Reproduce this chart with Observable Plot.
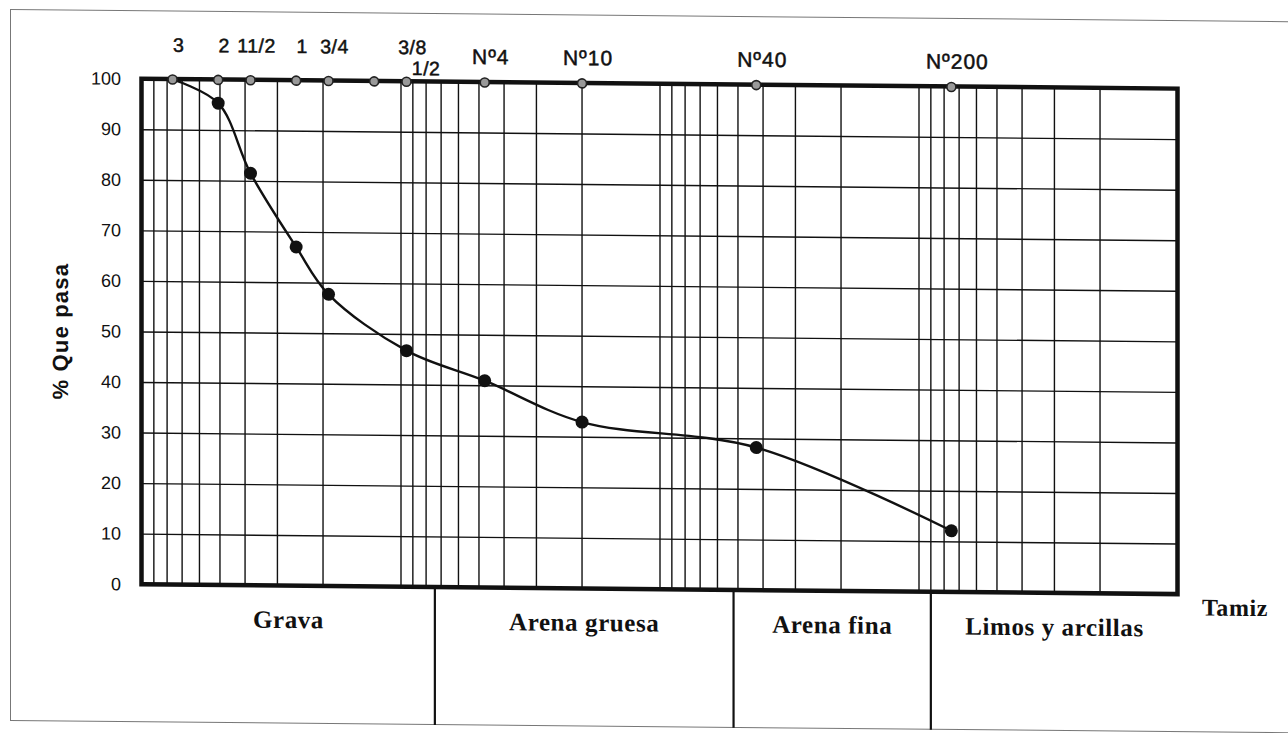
<!DOCTYPE html>
<html>
<head>
<meta charset="utf-8">
<script src="https://cdn.jsdelivr.net/npm/d3@7"></script>
<script src="https://cdn.jsdelivr.net/npm/@observablehq/plot@0.6"></script>
<style>
  html, body { margin: 0; padding: 0; background: #fff; }
  #sheet { position: relative; width: 1288px; height: 733px; overflow: hidden; transform: skewY(0.55deg); }
  #sheet .border { position: absolute; left: 10px; top: 15px; width: 1300px; height: 712px;
                   border: 1.5px solid #777; box-sizing: border-box; }
  #sheet svg { position: absolute; left: 0; top: 0; }
  .sieve-label text { letter-spacing: 0.5px; }
  .mesh-label text { letter-spacing: 1px; }
  .axis-title text { letter-spacing: 1.2px; }
  .fraction-label text { letter-spacing: 0.6px; }
</style>
</head>
<body>
<div id="sheet"><div class="border"></div></div>
<script>
// Sieve series (ASTM openings in mm) and the percentage passing each one
const sieveNames = ["3", "2", "11/2", "1", "3/4", "1/2", "3/8", "Nº4", "Nº10", "Nº40", "Nº200"];
const sieveSizes = [76.2, 50.8, 38.1, 25.4, 19.05, 12.7, 9.525, 4.75, 2.0, 0.425, 0.075];
const passing    = [100, 95.4, 81.6, 67.1, 57.8, null, 46.8, 41.0, 33.0, 28.3, 12.2];

// Axis extents and ticks
const sizeDomain = [100, 0.01];          // particle size, mm (log, coarse on the left)
const percentTicks = [0, 10, 20, 30, 40, 50, 60, 70, 80, 90, 100];

// Soil fractions shown in the strip under the chart
const bandNames  = ["Grava", "Arena gruesa", "Arena fina", "Limos y arcillas"];
const bandLimits = [7.4, 0.52, 0.09];

// Depth of the fraction strip, in % units of the y scale
const stripDepth = 27.3;

// Log-paper grid: 1..9 × 10^k inside the frame
const gridSizes = [];
for (let k = -2; k <= 1; ++k) for (let m = 1; m <= 9; ++m) {
  const v = m * 10 ** k;
  if (v > sizeDomain[1] && v < sizeDomain[0]) gridSizes.push(+v.toPrecision(3));
}

const points = sieveSizes.map((s, i) => ({size: s, pct: passing[i], name: sieveNames[i]}));
const measured = points.filter(d => d.pct != null);
const inchLabels = points.filter(d => !d.name.startsWith("Nº") && d.name !== "1/2");
const halfLabel = points.filter(d => d.name === "1/2");
const meshLabels = points.filter(d => d.name.startsWith("Nº"));

const edges = [sizeDomain[0], ...bandLimits, sizeDomain[1]];
const bands = bandNames.map((name, i) => ({name, mid: Math.sqrt(edges[i] * edges[i + 1])}));

const ink = "#111";
const sans = "'Liberation Sans', Arial, sans-serif";
const serif = "'Liberation Serif', 'Times New Roman', serif";

const chart = Plot.plot({
  width: 1288,
  height: 733,
  marginLeft: 141.5,
  marginRight: 110.5,
  marginTop: 83.5,
  marginBottom: 6,
  x: {type: "log", domain: sizeDomain, axis: null},
  y: {domain: [-stripDepth, 100]},
  style: {fontFamily: sans, fontSize: "18px", color: ink, background: "transparent", overflow: "visible"},
  marks: [
    // grid
    Plot.ruleX(gridSizes, {y1: 0, y2: 100, stroke: ink, strokeWidth: 1.4}),
    Plot.ruleY(percentTicks.filter(t => t > 0 && t < 100), {x1: sizeDomain[0], x2: sizeDomain[1], stroke: ink, strokeWidth: 1.4}),
    // fraction strip dividers
    Plot.ruleX(bandLimits, {y1: 0, y2: -stripDepth, stroke: ink, strokeWidth: 2.2}),
    // frame
    Plot.rect([{x1: sizeDomain[0], x2: sizeDomain[1], y1: 0, y2: 100}],
      {x1: "x1", x2: "x2", y1: "y1", y2: "y2", fill: "none", stroke: ink, strokeWidth: 4.5}),
    // y axis
    Plot.axisY(percentTicks, {tickSize: 0, tickPadding: 21, fontSize: 18, label: null,
      fill: ink, stroke: ink, strokeWidth: 0.5}),
    Plot.text(["% Que pasa"], {x: sizeDomain[0], y: 50, rotate: -90, dx: -81,
      fontWeight: "bold", fontSize: 22, fill: ink, className: "axis-title"}),
    // grading curve
    Plot.line(measured, {x: "size", y: "pct", curve: "catmull-rom", stroke: ink, strokeWidth: 2.4}),
    Plot.dot(measured.filter(d => d.pct < 100), {x: "size", y: "pct", r: 6.5, fill: ink, stroke: "none"}),
    // sieve markers on the top edge
    Plot.dot(points, {x: "size", y: 100, r: 4.5, fill: "#999", stroke: "#222", strokeWidth: 1.6}),
    // sieve labels
    Plot.text(inchLabels, {x: "size", y: 100, text: "name", dx: 6, dy: -34, fontSize: 19.5,
      fill: ink, stroke: ink, strokeWidth: 0.5, className: "sieve-label"}),
    Plot.text(halfLabel, {x: "size", y: 100, text: "name", dx: 52, dy: -13, fontSize: 19.5,
      fill: ink, stroke: ink, strokeWidth: 0.5, className: "sieve-label"}),
    Plot.text(meshLabels, {x: "size", y: 100, text: "name", dx: 6, dy: -25, fontSize: 21,
      fill: ink, stroke: ink, strokeWidth: 0.5, className: "mesh-label"}),
    // fraction names
    Plot.text(bands, {x: "mid", y: 0, text: "name", dy: 34, fontFamily: serif, fontWeight: "bold",
      fontSize: 25, fill: ink, className: "fraction-label"}),
    Plot.text(["Tamiz"], {x: sizeDomain[1], y: 0, dx: 57, dy: 13, fontFamily: serif, fontWeight: "bold",
      fontSize: 24, fill: ink, className: "fraction-label"})
  ]
});

document.getElementById("sheet").appendChild(chart);
</script>
</body>
</html>
